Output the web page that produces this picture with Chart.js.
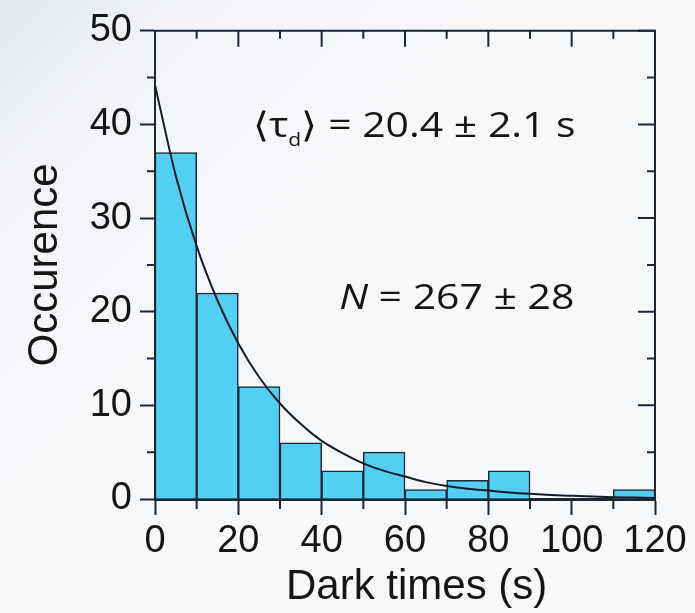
<!DOCTYPE html>
<html>
<head>
<meta charset="utf-8">
<script src="https://cdn.jsdelivr.net/npm/chart.js@4.4.1/dist/chart.umd.min.js"></script>
<style>
  html, body { margin: 0; padding: 0; width: 695px; height: 613px; overflow: hidden; }
  body { background: linear-gradient(135deg, #e6e9ec 0%, #f1f3f6 14%, #f6f8fa 40%, #f6f8fa 100%); }
  #c { display: block; }
</style>
</head>
<body>
<canvas id="c" width="695" height="613"></canvas>
<script>
// ---- data ----
const binCenters = [5, 15, 25, 35, 45, 55, 65, 75, 85, 95, 105, 115];   // s (10 s bins)
const counts     = [37, 22, 12, 6, 3, 5, 1, 2, 3, 0, 0, 1];

const fitTimes   = [0, 5, 10, 15, 20, 25, 30, 35, 40, 45, 50, 55, 60, 65, 70, 75, 80, 85, 90, 95, 100, 105, 110, 115, 120];
const fitValues  = [44.2, 34.5, 27.0, 21.2, 16.6, 13.0, 10.2, 8.0, 6.2, 4.9, 3.8, 3.0, 2.4, 1.8, 1.4, 1.1, 0.9, 0.7, 0.55, 0.43, 0.34, 0.26, 0.2, 0.16, 0.12];

const xMajorTicks = [0, 20, 40, 60, 80, 100, 120];
const xMinorTicks = [10, 30, 50, 70, 90, 110];
const yMajorTicks = [0, 10, 20, 30, 40, 50];
const yMinorTicks = [5, 15, 25, 35, 45];

const xTitle = '  Dark times (s)';
const yTitle = 'Occurence';
const tauLabel = { pre: '\u27E8\u03C4', sub: 'd', post: '\u27E9 = 20.4 \u00B1 2.1 s', x: 23.4, y: 38.7 };
const nLabel   = { pre: 'N', post: ' = 267 \u00B1 28', x: 44.2, y: 20.3 };

// ---- styling ----
const AXIS = '#1c2636';
const TEXT = '#151515';
const BAR_FILL = '#52cff2';
const TICK_FONT = { family: '"Liberation Sans", Arial, sans-serif', size: 38 };
const TITLE_FONT = { family: '"Liberation Sans", Arial, sans-serif', size: 42 };
const ANNOT_FAMILY = '"Open Sans", "Noto Sans", sans-serif';
const ANNOT_SIZE = 35;
const ANNOT_XSCALE = 1.17;

const frameTicks = {
  id: 'frameTicks',
  afterDatasetsDraw(chart) {
    const { ctx, chartArea: { left, right, top, bottom }, scales: { x, y } } = chart;
    ctx.save();
    ctx.strokeStyle = AXIS;
    ctx.lineCap = 'butt';
    ctx.lineWidth = 2;
    ctx.beginPath();
    ctx.moveTo(left, top);
    ctx.lineTo(right + 1, top);
    ctx.moveTo(right, top);
    ctx.lineTo(right, bottom);
    ctx.stroke();
    ctx.beginPath();
    xMinorTicks.forEach(v => { const p = x.getPixelForValue(v); ctx.moveTo(p, bottom); ctx.lineTo(p, bottom + 10); });
    yMinorTicks.forEach(v => { const p = y.getPixelForValue(v); ctx.moveTo(left, p); ctx.lineTo(left - 8, p); });
    xMajorTicks.forEach(v => { const p = x.getPixelForValue(v); ctx.moveTo(p, top); ctx.lineTo(p, top + 16); });
    xMinorTicks.forEach(v => { const p = x.getPixelForValue(v); ctx.moveTo(p, top); ctx.lineTo(p, top + 8); });
    yMajorTicks.forEach(v => { const p = y.getPixelForValue(v); ctx.moveTo(right, p); ctx.lineTo(right - 17, p); });
    yMinorTicks.forEach(v => { const p = y.getPixelForValue(v); ctx.moveTo(right, p); ctx.lineTo(right - 8, p); });
    ctx.stroke();
    ctx.restore();
  },
  afterDraw(chart) {
    const { ctx, scales: { x, y } } = chart;
    const drawParts = (parts, ax, ay) => {
      ctx.save();
      ctx.translate(ax, ay);
      ctx.scale(ANNOT_XSCALE, 1);
      let px = 0;
      parts.forEach(p => {
        ctx.font = p.font;
        ctx.fillText(p.text, px, p.dy || 0);
        px += ctx.measureText(p.text).width;
      });
      ctx.restore();
    };
    ctx.save();
    ctx.fillStyle = TEXT;
    ctx.textBaseline = 'alphabetic';
    ctx.textAlign = 'left';
    const f = `${ANNOT_SIZE}px ${ANNOT_FAMILY}`;
    const fs = `${Math.round(ANNOT_SIZE * 0.52)}px ${ANNOT_FAMILY}`;
    drawParts([
      { text: tauLabel.pre, font: f },
      { text: tauLabel.sub, font: fs, dy: 9 },
      { text: tauLabel.post, font: f }
    ], x.getPixelForValue(tauLabel.x), y.getPixelForValue(tauLabel.y));
    drawParts([
      { text: nLabel.pre, font: `italic ${f}` },
      { text: nLabel.post, font: f }
    ], x.getPixelForValue(nLabel.x), y.getPixelForValue(nLabel.y));
    ctx.restore();
  }
};

new Chart(document.getElementById('c'), {
  type: 'bar',
  data: {
    datasets: [
      {
        type: 'line',
        data: fitTimes.map((t, i) => ({ x: t, y: fitValues[i] })),
        borderColor: '#161b26',
        borderWidth: 2,
        pointRadius: 0,
        cubicInterpolationMode: 'monotone',
        fill: false,
        order: 0
      },
      {
        type: 'bar',
        data: binCenters.map((c, i) => ({ x: c, y: counts[i] })),
        backgroundColor: BAR_FILL,
        borderColor: AXIS,
        borderWidth: 1.5,
        borderSkipped: 'start',
        barPercentage: 1,
        categoryPercentage: 1,
        order: 1
      }
    ]
  },
  options: {
    responsive: false,
    animation: false,
    devicePixelRatio: 1,
    layout: { padding: { top: 30, right: 40, left: 0, bottom: 0 } },
    plugins: { legend: { display: false }, tooltip: { enabled: false } },
    scales: {
      x: {
        type: 'linear',
        min: 0, max: 120,
        offset: false,
        afterBuildTicks: s => { s.ticks = xMajorTicks.map(v => ({ value: v })); },
        afterFit: s => { s.height = 114; },
        ticks: { font: TICK_FONT, color: TEXT, padding: 4, maxRotation: 0, autoSkip: false },
        grid: { offset: false, drawOnChartArea: false, drawTicks: true, tickLength: 16, tickColor: AXIS, tickWidth: 2 },
        border: { display: true, color: AXIS, width: 3 },
        title: { display: true, text: xTitle, font: TITLE_FONT, color: TEXT, padding: { top: 0, bottom: 0 } }
      },
      y: {
        type: 'linear',
        min: 0, max: 50,
        afterBuildTicks: s => { s.ticks = yMajorTicks.map(v => ({ value: v })); },
        afterFit: s => { s.width = 155; },
        ticks: { font: TICK_FONT, color: TEXT, padding: 8, autoSkip: false },
        grid: { drawOnChartArea: false, drawTicks: true, tickLength: 15, tickColor: AXIS, tickWidth: 2 },
        border: { display: true, color: AXIS, width: 2 },
        title: { display: true, text: yTitle, font: TITLE_FONT, color: TEXT, padding: { top: 20, bottom: 0 } }
      }
    }
  },
  plugins: [frameTicks]
});
</script>
</body>
</html>
